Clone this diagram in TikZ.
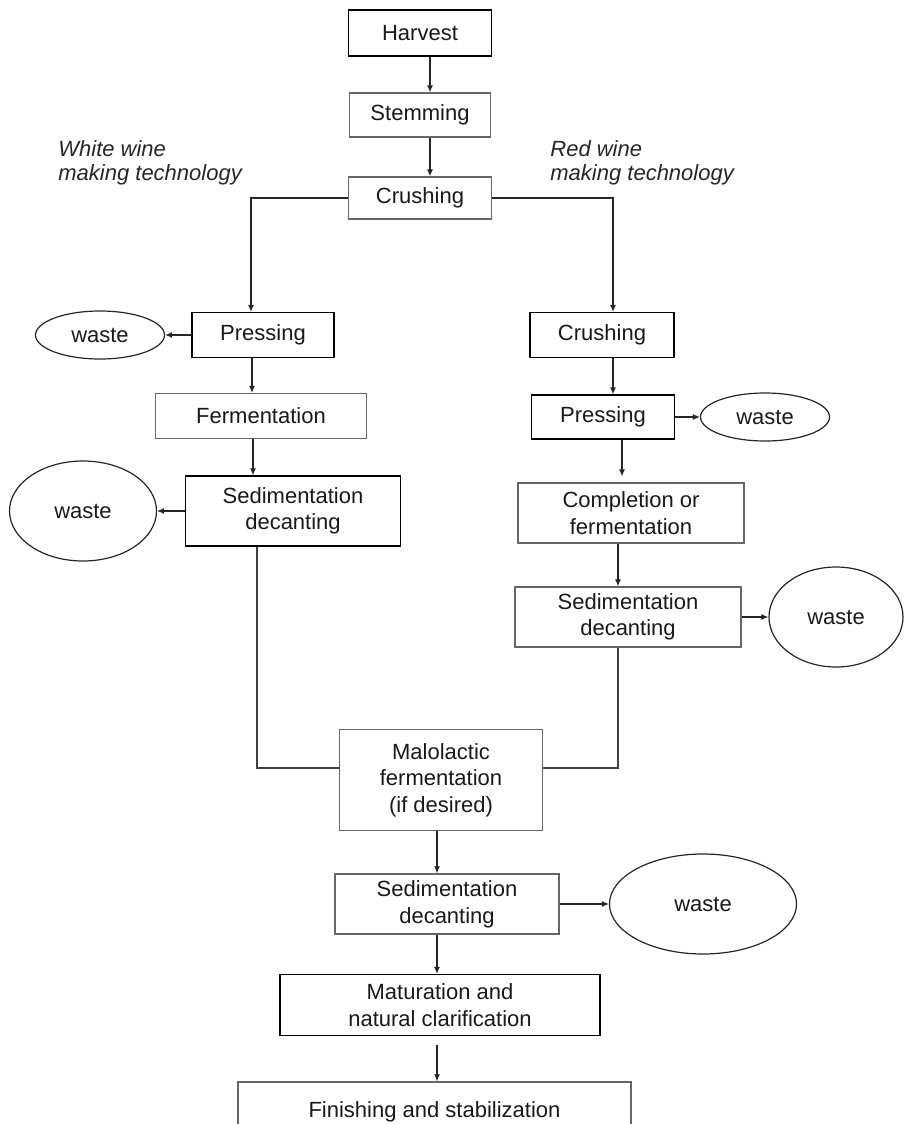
\documentclass[tikz,border=0pt]{standalone}
\usepackage{fontspec}
\setmainfont{Liberation Sans}
\usetikzlibrary{shapes.geometric,arrows.meta}
\begin{document}
\begin{tikzpicture}[x=0.5pt,y=-0.5pt,
  every node/.style={font=\fontsize{11}{13.3}\selectfont, text=black!90, inner sep=0pt, align=center},
  box/.style={draw=black, line width=0.6pt, rectangle},
  gbox/.style={draw=black!60, line width=0.6pt, rectangle},
  waste/.style={draw=black!85, line width=0.6pt, ellipse},
  arr/.style={draw=black!85, line width=0.55pt, -{Latex[length=3.5pt,width=3pt]}},
  ln/.style={draw=black!75, line width=0.6pt},
  lab/.style={font=\fontsize{11}{12}\selectfont\itshape, text=black!85, align=left, anchor=north west}]
\useasboundingbox (0,0) rectangle (904,1124);
\clip (0,0) rectangle (904,1124);
% main column top
\node[box,  minimum width=71.5pt, minimum height=23pt] (harvest) at (420,33) {Harvest};
\node[gbox, minimum width=70.5pt, minimum height=22pt] (stem) at (420,115) {Stemming};
\node[gbox, minimum width=71.5pt, minimum height=21pt] (crush) at (420,198) {Crushing};
% labels
\node[lab] (white) at (58,140) {White wine\\making technology};
\node[lab] (red) at (550,140) {Red wine\\making technology};
% white branch
\node[box,  minimum width=71pt, minimum height=22.5pt] (pressL) at (263,335) {Pressing};
\node[waste, minimum width=64.5pt, minimum height=24pt] (wasteL1) at (100,335) {waste};
\node[gbox, minimum width=105.5pt, minimum height=22.5pt] (ferm) at (261,416) {Fermentation};
\node[box,  minimum width=107.5pt, minimum height=35pt] (sedL) at (293,511) {Sedimentation\\decanting};
\node[waste, minimum width=73.5pt, minimum height=50pt] (wasteL2) at (83,511) {waste};
% red branch
\node[box,  minimum width=72pt, minimum height=22.5pt] (crushR) at (602,335) {Crushing};
\node[box,  minimum width=71.5pt, minimum height=22pt] (pressR) at (603,417) {Pressing};
\node[waste, minimum width=64.5pt, minimum height=24pt] (wasteR1) at (765,417) {waste};
\node[gbox, minimum width=113pt, minimum height=30pt] (compl) at (631,513) {Completion or\\fermentation};
\node[gbox, minimum width=113pt, minimum height=30pt] (sedR) at (628,617) {Sedimentation\\decanting};
\node[waste, minimum width=67pt, minimum height=50pt] (wasteR2) at (836,617) {waste};
% joint column
\node[gbox, minimum width=101.5pt, minimum height=50.5pt] (malo) at (441,780) {Malolactic\\fermentation\\(if desired)};
\node[gbox, minimum width=112pt, minimum height=30pt] (sedB) at (447,904) {Sedimentation\\decanting};
\node[waste, minimum width=93.5pt, minimum height=50pt] (wasteB) at (703,904) {waste};
\node[box,  minimum width=160pt, minimum height=30.5pt] (matur) at (440,1005) {Maturation and\\natural clarification};
\node[gbox, minimum width=196.5pt, minimum height=28pt, text depth=0pt] (finish) at (434.5,1110) {Finishing and stabilization};
% connectors
\draw[arr] ([xshift=5pt]harvest.south) coordinate (a1) -- (a1 |- stem.north);
\draw[arr] ([xshift=5pt]stem.south) coordinate (a2) -- (a2 |- crush.north);
\draw[arr] (crush.west) -| ([xshift=-6pt]pressL.north);
\draw[arr] (crush.east) -| ([xshift=5.5pt]crushR.north);
\draw[arr] (pressL.west) -- (wasteL1.east);
\draw[arr] ([xshift=-5.5pt]pressL.south) coordinate (a3) -- (a3 |- ferm.north);
\draw[arr] ([xshift=-4pt]ferm.south) coordinate (a4) -- (a4 |- sedL.north);
\draw[arr] (sedL.west) -- (wasteL2.east);
\draw[arr] ([xshift=5.5pt]crushR.south) coordinate (a5) -- (a5 |- pressR.north);
\draw[arr] (pressR.east) -- (wasteR1.west);
\draw[arr] ([xshift=9.5pt]pressR.south) coordinate (a6) -- ([yshift=3pt]a6 |- compl.north);
\draw[arr] ([xshift=-6.5pt]compl.south) coordinate (a7) -- (a7 |- sedR.north);
\draw[arr] (sedR.east) -- (wasteR2.west);
\draw[ln] ([xshift=-5pt]sedR.south) |- ([yshift=6pt]malo.east);
\draw[ln] ([xshift=-18pt]sedL.south) |- ([yshift=6pt]malo.west);
\draw[arr] ([xshift=-2pt]malo.south) coordinate (a8) -- (a8 |- sedB.north);
\draw[arr] (sedB.east) -- (wasteB.west);
\draw[arr] ([xshift=-5pt]sedB.south) coordinate (a9) -- (a9 |- matur.north);
\draw[arr] ([xshift=-1.5pt,yshift=-4.5pt]matur.south) coordinate (a10) -- (a10 |- finish.north);
\end{tikzpicture}
\end{document}
